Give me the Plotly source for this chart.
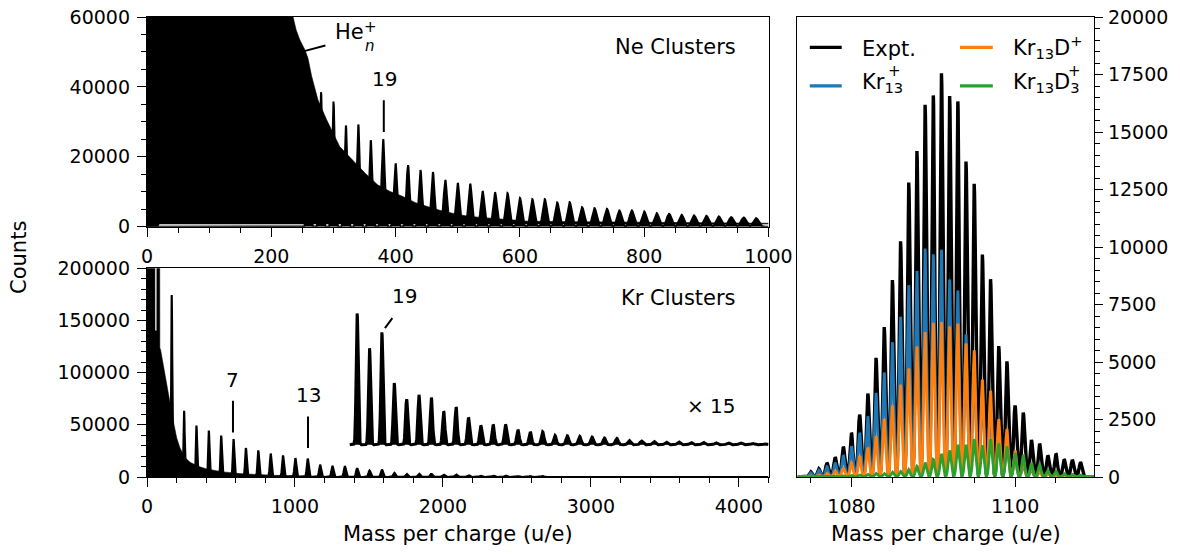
import numpy as np
import plotly.graph_objects as go

# ------------------------------------------------------------------
# DATA
# ------------------------------------------------------------------
# Top-left panel: Ne clusters, peak heights of Ne_n+ (n = cluster size)
ne_size = list(range(13, 50))
ne_counts = [44000, 38500, 35800, 28950, 29240, 24760, 25050, 18100, 17620, 16190,
             15620, 13330, 12480, 12290, 10190, 9810, 9620, 8290, 7900, 7900,
             6950, 7050, 5620, 5330, 5140, 4670, 4670, 4380, 3900, 3710,
             3430, 3240, 3140, 2950, 2760, 2670, 2480]
NE_UNIT = 20.0          # u per Ne atom as calibrated in the figure

# Top-left panel: envelope of the dense He_n+ series (black area)
he_env_mass = [0, 230, 235, 240, 246, 254, 259, 265, 275, 289,
               310, 331, 351, 371, 391, 411, 431, 451, 471, 491,
               512, 532, 552, 572, 592, 612, 650, 700, 800, 900, 1000]
he_env_counts = [120000, 66000, 60000, 56300, 53400, 50600, 48200, 43000, 36300, 30600,
                 22950, 19100, 15300, 12000, 10100, 8700, 6950, 5800, 4700, 3900,
                 3150, 2750, 2500, 2200, 1800, 1600, 1500, 1400, 1250, 1100, 1000]
he_base_mass = [0, 18, 20, 1000]
he_base_counts = [0, 0, 700, 700]

# Bottom-left panel: Kr clusters, peak heights of Kr_n+
kr_size = list(range(2, 51))
kr_counts = [174450, 63730, 49380, 44600, 39810, 36360, 27750, 25450, 22580, 20670,
             18180, 17510, 11770, 10500, 10300, 8400, 6170, 7190, 3940, 2920,
             3190, 3020, 2130, 2410, 1740, 1230, 1280, 1300, 960, 810,
             830, 590, 570, 530, 490, 430, 400, 270, 240, 210,
             170, 190, 150, 150, 130, 120, 120, 80, 60]
KR_UNIT = 83.55         # u per Kr atom as calibrated in the figure

# Bottom-left panel: low-mass background envelope (black area)
kr_env_mass = [0, 52, 54, 66, 68, 84, 87, 92, 110, 133, 155, 178, 201, 223,
               257, 291, 347, 403, 515, 628, 853, 1191, 1400]
kr_env_counts = [400000, 400000, 140000, 140000, 400000, 400000, 123500, 121900,
                 107500, 88400, 69250, 53300, 37400, 27800, 18800, 14100, 10200,
                 7750, 4900, 3250, 1630, 670, 300]

# Magnified (x 15) copy of the Kr spectrum
INSET_FACTOR = 15
INSET_OFFSET = 30900
INSET_START = 1370

# Right panel: isotope pattern around Kr13
iso_mass = list(range(1075, 1109))
expt = [230, 355, 615, 860, 1320, 1915, 2715, 3630, 5180, 6520,
        8560, 10250, 12805, 14170, 16180, 16590, 17550, 16560, 16330, 13720,
        12745, 9670, 8600, 5690, 5030, 3110, 2800, 1610, 1450, 940,
        1010, 770, 740, 640]
kr13 = [190, 300, 450, 620, 940, 1340, 1920, 2640, 3650, 4545,
        5860, 6970, 8340, 8960, 9930, 9680, 9880, 8590, 8110, 6200,
        5000, 3800, 3000, 2000, 1500, 1000, 550, 350, 220, 130,
        80, 50, 30, 20]
kr13d = [50, 90, 160, 260, 375, 620, 910, 1270, 1775, 2525,
         3100, 4010, 4720, 5670, 6300, 6700, 6740, 6550, 6670, 5800,
         5510, 4240, 3750, 2510, 2080, 1150, 700, 450, 250, 150,
         90, 50, 30, 20]
kr13d3 = [10, 20, 30, 45, 55, 70, 90, 115, 160, 150,
          216, 245, 332, 476, 620, 765, 1000, 1154, 1400, 1400,
          1645, 1370, 1645, 1443, 1328, 1040, 967, 606, 534, 289,
          245, 144, 115, 87]

# ------------------------------------------------------------------
# helpers: draw each peak with a gaussian line shape
# ------------------------------------------------------------------
def spectrum(grid, centers, heights, widths):
    out = np.zeros_like(grid)
    for c, h, w in zip(centers, heights, widths):
        out = np.maximum(out, h * np.exp(-0.5 * ((grid - c) / w) ** 2))
    return out

FONT = "DejaVu Sans"
FS = 19      # tick labels
FT = 21      # words
FD = 20      # numeric annotations
BLUE, ORANGE, GREEN = "#1f77b4", "#ff7f0e", "#2ca02c"

fig = go.Figure()

# ---- Ne panel ----
x_ne = np.arange(0, 1000.001, 0.25)
ne_line = spectrum(x_ne, [n * NE_UNIT for n in ne_size], ne_counts,
                   [1.3 + 0.06 * n for n in ne_size])
fig.add_trace(go.Scatter(x=he_base_mass, y=he_base_counts, mode="lines",
                         line=dict(width=0, color="black"), xaxis="x", yaxis="y",
                         showlegend=False, hoverinfo="skip"))
fig.add_trace(go.Scatter(x=he_env_mass, y=he_env_counts, mode="lines", fill="tonexty",
                         fillcolor="black", line=dict(width=0.6, color="black"),
                         xaxis="x", yaxis="y", showlegend=False))
fig.add_trace(go.Scatter(x=x_ne, y=ne_line, mode="lines", fill="tozeroy",
                         fillcolor="black", line=dict(width=2, color="black"),
                         xaxis="x", yaxis="y", showlegend=False))

# ---- Kr panel ----
x_kr = np.arange(0, 4200.001, 1.0)
kr_line = spectrum(x_kr, [n * KR_UNIT for n in kr_size], kr_counts,
                   [1.5 + 1.3 * np.sqrt(n) for n in kr_size])
fig.add_trace(go.Scatter(x=kr_env_mass, y=kr_env_counts, mode="lines", fill="tozeroy",
                         fillcolor="black", line=dict(width=0.5, color="black"),
                         xaxis="x2", yaxis="y2", showlegend=False))
fig.add_trace(go.Scatter(x=x_kr, y=kr_line, mode="lines", fill="tozeroy",
                         fillcolor="black", line=dict(width=2.2, color="black"),
                         xaxis="x2", yaxis="y2", showlegend=False))
mask = x_kr >= INSET_START
fig.add_trace(go.Scatter(x=[INSET_START, 4200], y=[INSET_OFFSET, INSET_OFFSET],
                         mode="lines", line=dict(width=0, color="black"),
                         xaxis="x2", yaxis="y2", showlegend=False, hoverinfo="skip"))
fig.add_trace(go.Scatter(x=x_kr[mask], y=kr_line[mask] * INSET_FACTOR + INSET_OFFSET,
                         mode="lines", fill="tonexty", fillcolor="black",
                         line=dict(width=3, color="black"),
                         xaxis="x2", yaxis="y2", showlegend=False))

# ---- Isotope panel ----
x_iso = np.arange(1073.4, 1109.66, 0.02)
for name, vals, col, lw in [("Expt.", expt, "black", 3.4),
                            ("Kr13+", kr13, BLUE, 2.8),
                            ("Kr13D+", kr13d, ORANGE, 2.8),
                            ("Kr13D3+", kr13d3, GREEN, 2.8)]:
    y = spectrum(x_iso, iso_mass, vals, [0.17] * len(iso_mass))
    fig.add_trace(go.Scatter(x=x_iso, y=y, mode="lines", name=name,
                             line=dict(width=lw, color=col),
                             xaxis="x3", yaxis="y3", showlegend=False))

# ------------------------------------------------------------------
# axes
# ------------------------------------------------------------------
def ax(**kw):
    base = dict(showline=True, linecolor="black", linewidth=1.3, mirror=True,
                ticks="outside", ticklen=9, tickwidth=1.3, tickcolor="black",
                showgrid=False, zeroline=False, tickformat="d",
                ticklabelstandoff=3,
                tickfont=dict(family=FONT, size=FS, color="black"))
    base.update(kw)
    return base

def minor(d):
    return dict(dtick=d, ticks="outside", ticklen=5, tickwidth=1.1, tickcolor="black",
                showgrid=False)

TITLE = dict(text="Mass per charge (u/e)", standoff=10,
             font=dict(family=FONT, size=FT, color="black"))
LEFT_DOM = [0, 0.6563]
fig.update_layout(
    xaxis=ax(domain=LEFT_DOM, range=[0, 1000], tick0=0, dtick=200, minor=minor(50),
             anchor="y"),
    yaxis=ax(domain=[0.544, 1], range=[0, 60000], tick0=0, dtick=20000,
             minor=minor(5000), anchor="x"),
    xaxis2=ax(domain=LEFT_DOM, range=[0, 4200], tick0=0, dtick=1000, minor=minor(200),
              anchor="y2", title=TITLE),
    yaxis2=ax(domain=[0, 0.4538], range=[0, 200000], tick0=0, dtick=50000,
              minor=minor(10000), anchor="x2"),
    xaxis3=ax(domain=[0.6869, 1], range=[1073.4, 1109.65], tick0=1080, dtick=20,
              minor=minor(5), anchor="y3", title=TITLE),
    yaxis3=ax(domain=[0, 1], range=[0, 20000], tick0=0, dtick=2500, minor=minor(500),
              side="right", anchor="x3", ticklen=8, ticklabelstandoff=1),
    width=1180, height=554,
    margin=dict(l=147, r=86, t=17, b=77, autoexpand=False),
    paper_bgcolor="white", plot_bgcolor="white",
    font=dict(family=FONT, size=FS, color="black"),
    showlegend=False,
)

# ------------------------------------------------------------------
# annotations
# ------------------------------------------------------------------
ann = []
def text(t, x, y, xref, yref, size=FT, xanchor="center", yanchor="middle", **kw):
    ann.append(dict(text=t, x=x, y=y, xref=xref, yref=yref, showarrow=False,
                    xanchor=xanchor, yanchor=yanchor,
                    font=dict(family=FONT, size=size, color="black"), **kw))

text("Counts", -0.1352, 0.4783, "paper", "paper", textangle=-90)

# Ne panel
text("Ne Clusters", 951, 51300, "x", "y", xanchor="right")
text("He", 300, 55580, "x", "y", xanchor="left")
text("+", 346, 57100, "x", "y", size=15, xanchor="left")
text("<i>n</i>", 347, 51600, "x", "y", size=15, xanchor="left")
text("19", 382, 42160, "x", "y", size=FD)

# Kr panel
text("Kr Clusters", 3993, 171600, "x2", "y2", xanchor="right")
text("19", 1743, 173500, "x2", "y2", size=FD)
text("7", 581, 93160, "x2", "y2", size=FD)
text("13", 1088, 78330, "x2", "y2", size=FD)
text("\u00d7 15", 3815, 68290, "x2", "y2", size=FD)

# Isotope panel legend
text("Expt.", 0.2108, 0.9310, "x3 domain", "y3 domain", xanchor="left")
text("Kr<sub>13</sub>", 0.2108, 0.856, "x3 domain", "y3 domain", xanchor="left")
text("+", 0.2970, 0.882, "x3 domain", "y3 domain", size=15, xanchor="left")
text("Kr<sub>13</sub>D<sup>+</sup>", 0.7184, 0.934, "x3 domain", "y3 domain",
     xanchor="left")
text("Kr<sub>13</sub>D<sub>3</sub>", 0.7184, 0.856, "x3 domain", "y3 domain",
     xanchor="left")
text("+", 0.9060, 0.882, "x3 domain", "y3 domain", size=15, xanchor="left")

shapes = []
def seg(x0, y0, x1, y1, xref, yref, color="black", width=2):
    shapes.append(dict(type="line", x0=x0, y0=y0, x1=x1, y1=y1, xref=xref, yref=yref,
                       line=dict(color=color, width=width)))

seg(253, 50240, 287, 51860, "x", "y")
seg(381, 27120, 381, 36170, "x", "y")
seg(1608, 142600, 1658, 152200, "x2", "y2")
seg(581, 42750, 581, 73080, "x2", "y2")
seg(1088, 27830, 1088, 58060, "x2", "y2")

seg(0.0415, 0.9338, 0.1491, 0.9338, "x3 domain", "y3 domain", "black", 3.2)
seg(0.0415, 0.8503, 0.1491, 0.8503, "x3 domain", "y3 domain", BLUE, 3.2)
seg(0.5481, 0.9338, 0.6588, 0.9338, "x3 domain", "y3 domain", ORANGE, 3.2)
seg(0.5481, 0.8503, 0.6588, 0.8503, "x3 domain", "y3 domain", GREEN, 3.2)

fig.update_layout(annotations=ann, shapes=shapes)
fig.write_html("out.html", config={"displayModeBar": False},
               post_script="document.body.style.margin='0px';"
                           "document.documentElement.style.margin='0px';")
